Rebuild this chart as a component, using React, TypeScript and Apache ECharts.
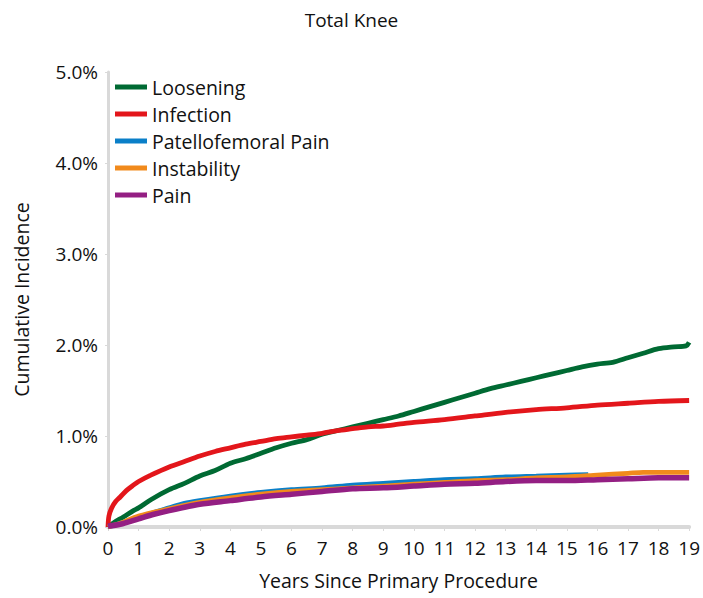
import React, { useEffect, useRef } from "react";
import * as echarts from "echarts";

const seriesNames = ["Loosening", "Infection", "Patellofemoral Pain", "Instability", "Pain"];
const colors = ["#006a33", "#e3161b", "#0a7fc8", "#f18a1c", "#941f83"];

const loosening: [number, number][] = [
  [0, 0], [0.2, 0.05], [0.5, 0.11], [0.83, 0.18], [1, 0.21], [1.4, 0.3], [2, 0.41], [2.5, 0.48],
  [3, 0.56], [3.5, 0.62], [4, 0.7], [4.5, 0.75], [5, 0.81], [5.5, 0.87], [6, 0.92], [6.5, 0.96],
  [7, 1.02], [7.5, 1.06], [8, 1.1], [8.5, 1.14], [9, 1.18], [9.5, 1.22], [10, 1.27], [10.5, 1.32],
  [11, 1.37], [11.5, 1.42], [12, 1.47], [12.5, 1.52], [13, 1.56], [13.5, 1.6], [14, 1.64],
  [14.5, 1.68], [15, 1.72], [15.5, 1.76], [16, 1.79], [16.5, 1.81], [17, 1.86], [17.5, 1.91],
  [18, 1.96], [18.5, 1.98], [18.9, 1.99], [19, 2.03],
];
const infection: [number, number][] = [
  [0, 0], [0.03, 0.12], [0.12, 0.21], [0.25, 0.28], [0.4, 0.33], [0.6, 0.4], [0.83, 0.46],
  [1, 0.5], [1.4, 0.57], [2, 0.66], [2.5, 0.72], [3, 0.78], [3.5, 0.83], [4, 0.87], [4.5, 0.91],
  [5, 0.94], [5.5, 0.97], [6, 0.99], [6.5, 1.01], [7, 1.03], [7.5, 1.06], [8, 1.08], [8.5, 1.1],
  [9, 1.11], [9.5, 1.13], [10, 1.15], [11, 1.18], [12, 1.22], [13, 1.26], [14, 1.29], [15, 1.31],
  [16, 1.34], [17, 1.36], [18, 1.38], [19, 1.39],
];
const patellofemoral: [number, number][] = [
  [0, 0], [0.4, 0.04], [1, 0.1], [1.5, 0.16], [2, 0.21], [2.5, 0.26], [3, 0.29], [4, 0.34],
  [5, 0.38], [6, 0.41], [7, 0.43], [8, 0.46], [9, 0.48], [10, 0.5], [11, 0.52], [12, 0.53],
  [13, 0.55], [14, 0.56], [15, 0.57], [15.7, 0.575],
];
const instability: [number, number][] = [
  [0, 0], [0.4, 0.04], [1, 0.12], [2, 0.2], [3, 0.27], [4, 0.32], [5, 0.36], [6, 0.39], [7, 0.41],
  [8, 0.43], [9, 0.45], [10, 0.47], [11, 0.49], [12, 0.51], [13, 0.52], [14, 0.54], [15, 0.55],
  [16, 0.57], [17, 0.59], [17.5, 0.6], [19, 0.6],
];
const pain: [number, number][] = [
  [0, 0.01], [0.4, 0.03], [1, 0.09], [1.5, 0.14], [2, 0.18], [3, 0.25], [4, 0.29], [5, 0.33],
  [6, 0.36], [7, 0.39], [8, 0.42], [9, 0.43], [10, 0.45], [11, 0.47], [12, 0.48], [13, 0.5],
  [14, 0.51], [15, 0.51], [16, 0.52], [17, 0.53], [18, 0.54], [19, 0.54],
];
const allData = [loosening, infection, patellofemoral, instability, pain];

const FONT = "'Open Sans', 'Noto Sans', sans-serif";

export default function App() {
  const ref = useRef<HTMLDivElement>(null);
  useEffect(() => {
    if (!ref.current) return;
    document.body.style.margin = "0";
    const chart = echarts.init(ref.current, undefined, { renderer: "svg" });
    chart.setOption({
      animation: false,
      backgroundColor: "#ffffff",
      title: {
        text: "Total Knee",
        left: "center",
        top: 5,
        textStyle: { fontFamily: FONT, fontSize: 19, fontWeight: "normal", color: "#111" },
      },
      legend: {
        orient: "vertical",
        left: 110,
        top: 72,
        itemWidth: 32,
        itemHeight: 5,
        itemGap: 7,
        icon: "rect",
        textStyle: { fontFamily: FONT, fontSize: 19.5, lineHeight: 20, color: "#111" },
        data: seriesNames,
      },
      grid: { left: 108, right: 13, top: 72, bottom: 71, containLabel: false },
      xAxis: {
        type: "value",
        min: 0,
        max: 19,
        interval: 1,
        name: "Years Since Primary Procedure",
        nameLocation: "middle",
        nameGap: 43,
        nameTextStyle: { fontFamily: FONT, fontSize: 19.5, color: "#111" },
        axisLine: { show: true, onZero: false, lineStyle: { color: "#d9d9d9", width: 4 } },
        axisTick: { show: true, length: 4, lineStyle: { color: "#d9d9d9" } },
        axisLabel: { fontFamily: FONT, fontSize: 19, color: "#111", margin: 11 },
        splitLine: { show: false },
      },
      yAxis: {
        type: "value",
        min: 0,
        max: 5,
        interval: 1,
        name: "Cumulative Incidence",
        nameLocation: "middle",
        nameGap: 77,
        nameTextStyle: { fontFamily: FONT, fontSize: 19.5, color: "#111" },
        axisLine: { show: true, lineStyle: { color: "#d9d9d9", width: 3 } },
        axisTick: { show: true, length: 3, lineStyle: { color: "#d9d9d9" } },
        axisLabel: {
          fontFamily: FONT,
          fontSize: 19,
          color: "#111",
          margin: 10,
          formatter: (v: number) => v.toFixed(1) + "%",
        },
        splitLine: { show: false },
      },
      series: seriesNames.map((name, i) => ({
        name,
        type: "line",
        data: allData[i],
        showSymbol: false,
        symbol: "none",
        smooth: 0.3,
        color: colors[i],
        lineStyle: { width: i === 4 ? 5.5 : 4.8, color: colors[i] },
        z: 2 + i,
      })),
    });
    return () => chart.dispose();
  }, []);
  return <div ref={ref} style={{ width: 703, height: 598 }} />;
}
